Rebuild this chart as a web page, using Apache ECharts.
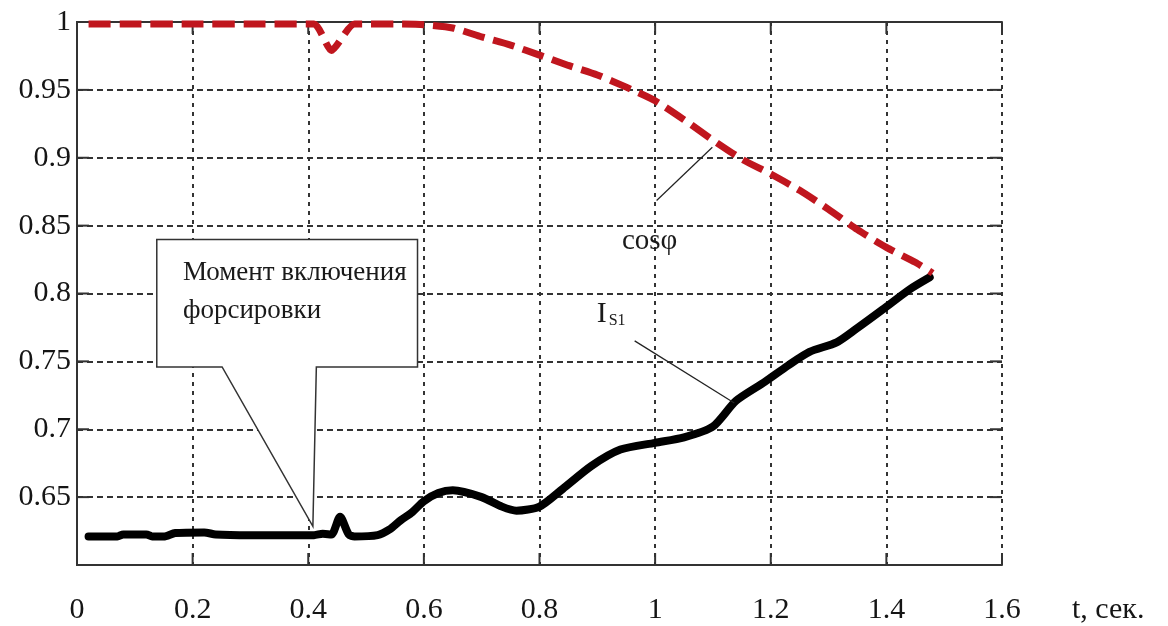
<!DOCTYPE html>
<html><head><meta charset="utf-8">
<script src="https://cdn.jsdelivr.net/npm/echarts@6/dist/echarts.min.js"></script>
<style>html,body{margin:0;padding:0;background:#fff}#c{width:1168px;height:626px}</style>
</head><body><div id="c"></div>
<script>
// cos(phi) curve (red dashed)
const tCos = [0.02,0.1,0.2,0.3,0.41,0.44,0.48,0.55,0.6,0.65,0.7,0.75,0.8,0.85,0.9,0.95,1.0,1.05,1.1,1.15,1.2,1.25,1.3,1.35,1.4,1.45,1.48];
const cosPhi = [0.9985,0.9985,0.9985,0.9985,0.9985,0.979,0.9985,0.9985,0.998,0.9956,0.989,0.983,0.9756,0.968,0.961,0.952,0.942,0.928,0.913,0.899,0.888,0.876,0.862,0.847,0.834,0.823,0.815];
// I_S1 curve (black solid)
const tIs = [0.02,0.07,0.08,0.12,0.13,0.15,0.17,0.22,0.24,0.3,0.41,0.425,0.44,0.455,0.47,0.48,0.52,0.54,0.56,0.58,0.6,0.625,0.65,0.7,0.735,0.76,0.8,0.84,0.89,0.94,1.0,1.05,1.1,1.14,1.19,1.23,1.267,1.314,1.348,1.393,1.44,1.475];
const iS1 = [0.621,0.621,0.6225,0.6225,0.621,0.621,0.6235,0.624,0.6225,0.622,0.622,0.623,0.6225,0.6355,0.6225,0.621,0.622,0.626,0.633,0.639,0.647,0.653,0.655,0.65,0.643,0.640,0.643,0.656,0.673,0.685,0.690,0.694,0.702,0.721,0.735,0.747,0.757,0.764,0.774,0.788,0.803,0.812];
// axis ticks
const xTicks = [0,0.2,0.4,0.6,0.8,1,1.2,1.4,1.6];
const xTickLabels = ['0','0.2','0.4','0.6','0.8','1','1.2','1.4','1.6'];
const yTicks = [0.6,0.65,0.7,0.75,0.8,0.85,0.9,0.95,1];
const yTickLabels = ['','0.65','0.7','0.75','0.8','0.85','0.9','0.95','1'];
const xAxisTitle = 't, сек.';
const calloutText = ['Момент включения','форсировки'];
const cosLabel = 'cosφ';

const FONT = '"Liberation Serif","DejaVu Serif",serif';
const GRID = '#333';
function lookup(ticks, labels, v){
  for (let i=0;i<ticks.length;i++) if (Math.abs(ticks[i]-v)<1e-6) return labels[i];
  return '';
}
const chart = echarts.init(document.getElementById('c'), null, {renderer:'canvas'});
const axisLineStyle = {show:true, lineStyle:{color:GRID, width:2}};
const option = {
  animation:false,
  backgroundColor:'#fff',
  grid:{left:77, top:22, right:166, bottom:61, containLabel:false},
  xAxis:[{
    type:'value', min:0, max:1.6, interval:0.2, position:'bottom',
    axisLine:axisLineStyle, axisTick:{show:false},
    axisLabel:{margin:30, fontFamily:FONT, fontSize:30, color:'#151515',
      formatter:v=>lookup(xTicks,xTickLabels,v)},
    splitLine:{show:true, lineStyle:{color:GRID, width:2, type:[4,5]}}
  },{
    type:'value', min:0, max:1.6, interval:0.2, position:'top',
    axisLine:axisLineStyle, axisTick:{show:false},
    axisLabel:{show:false}, splitLine:{show:false}
  }],
  yAxis:[{
    type:'value', min:0.6, max:1.0, interval:0.05, position:'left',
    axisLine:axisLineStyle, axisTick:{show:false},
    axisLabel:{margin:6, fontFamily:FONT, fontSize:30, color:'#151515',
      formatter:v=>lookup(yTicks,yTickLabels,v)},
    splitLine:{show:true, lineStyle:{color:GRID, width:2, type:[6,4]}}
  },{
    type:'value', min:0.6, max:1.0, interval:0.05, position:'right',
    axisLine:axisLineStyle, axisTick:{show:false},
    axisLabel:{show:false}, splitLine:{show:false}
  }],
  series:[{
    name:'I_S1', type:'line', xAxisIndex:0, yAxisIndex:0, showSymbol:false, clip:false,
    smooth:0.25,
    data:tIs.map((t,i)=>[t,iS1[i]]),
    lineStyle:{color:'#000', width:8, join:'round', cap:'round'}, z:3
  },{
    name:'cosφ', type:'line', xAxisIndex:0, yAxisIndex:0, showSymbol:false, clip:false,
    smooth:0.2,
    data:tCos.map((t,i)=>[t,cosPhi[i]]),
    lineStyle:{color:'#c0161e', width:7, type:[22,9]}, z:4
  }]
};
chart.setOption(option);

const P = (t,v) => chart.convertToPixel({xAxisIndex:0, yAxisIndex:0}, [t,v]);
// annotation anchors in data coordinates
const bx = {l:0.138, r:0.589, top:0.8397, bot:0.7459, gl:0.251, gr:0.414, tip:[0.408,0.6285]};
const boxPts = [
  P(bx.l,bx.top), P(bx.r,bx.top), P(bx.r,bx.bot), P(bx.gr,bx.bot),
  P(bx.tip[0],bx.tip[1]), P(bx.gl,bx.bot), P(bx.l,bx.bot)
];
const t1 = P(0.1832,0.8154), t2 = P(0.1832,0.7873);
const cosLab = P(0.9905,0.8383);
const cosA = P(1.0026,0.8685), cosB = P(1.099,0.9077);
const iLab = P(0.899,0.785), sLab = P(0.9196,0.7799);
const iA = P(0.9646,0.7651), iB = P(1.137,0.7193);
const yBottom = P(0,0.6)[1], yTop = P(0,1)[1];
const xStart = P(0,0.6)[0], xEnd = P(1.6,0.6)[0];
const TL = 12;
const tickEls = [];
xTicks.forEach(t=>{
  const x = P(t,0.6)[0];
  tickEls.push({type:'line', z:2, shape:{x1:x,y1:yBottom,x2:x,y2:yBottom-TL}, style:{stroke:GRID, lineWidth:2}});
  tickEls.push({type:'line', z:2, shape:{x1:x,y1:yTop,x2:x,y2:yTop+TL}, style:{stroke:GRID, lineWidth:2}});
});
yTicks.forEach(v=>{
  const y = P(0,v)[1];
  tickEls.push({type:'line', z:2, shape:{x1:xStart,y1:y,x2:xStart+TL,y2:y}, style:{stroke:GRID, lineWidth:2}});
  tickEls.push({type:'line', z:2, shape:{x1:xEnd,y1:y,x2:xEnd-TL,y2:y}, style:{stroke:GRID, lineWidth:2}});
});

chart.setOption({graphic:tickEls.concat([
  {type:'polygon', z:2, shape:{points:boxPts}, style:{fill:'#fff', stroke:'#333', lineWidth:1.5}},
  {type:'text', z:5, x:t1[0], y:t1[1], style:{text:calloutText[0], font:'27px '+FONT, fill:'#1a1a1a', verticalAlign:'middle', align:'left'}},
  {type:'text', z:5, x:t2[0], y:t2[1], style:{text:calloutText[1], font:'27px '+FONT, fill:'#1a1a1a', verticalAlign:'middle', align:'left'}},
  {type:'line', z:5, shape:{x1:cosA[0],y1:cosA[1],x2:cosB[0],y2:cosB[1]}, style:{stroke:'#222', lineWidth:1.2}},
  {type:'text', z:5, x:cosLab[0], y:cosLab[1], style:{text:cosLabel, font:'29px '+FONT, fill:'#1a1a1a', verticalAlign:'middle', align:'center'}},
  {type:'line', z:5, shape:{x1:iA[0],y1:iA[1],x2:iB[0],y2:iB[1]}, style:{stroke:'#222', lineWidth:1.2}},
  {type:'text', z:5, x:iLab[0], y:iLab[1], style:{text:'I', font:'30px '+FONT, fill:'#1a1a1a', verticalAlign:'middle', align:'left'}},
  {type:'text', z:5, x:sLab[0], y:sLab[1], style:{text:'S1', font:'16px '+FONT, fill:'#1a1a1a', verticalAlign:'middle', align:'left'}},
  {type:'text', z:5, x:xEnd+70, y:yBottom+45, style:{text:xAxisTitle, font:'30px '+FONT, fill:'#151515', verticalAlign:'middle', align:'left'}}
])});
</script></body></html>
